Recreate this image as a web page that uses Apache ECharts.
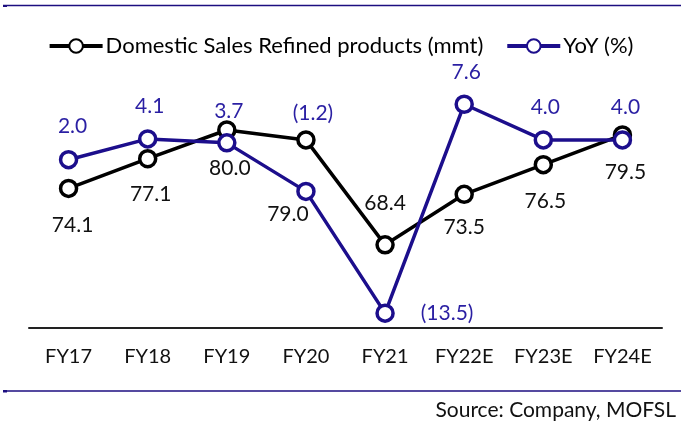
<!DOCTYPE html>
<html>
<head>
<meta charset="utf-8">
<script src="https://cdn.jsdelivr.net/npm/echarts@6/dist/echarts.min.js"></script>
<style>html,body{margin:0;padding:0;background:#fff}#c{width:681px;height:425px}</style>
</head>
<body>
<div id="c"></div>
<script>
const categories = ['FY17','FY18','FY19','FY20','FY21','FY22E','FY23E','FY24E'];
const salesValues = [74.1, 77.1, 80.0, 79.0, 68.4, 73.5, 76.5, 79.5];
const yoyValues = [2.0, 4.1, 3.7, -1.2, -13.5, 7.6, 4.0, 4.0];
const salesName = 'Domestic Sales Refined products (mmt)';
const yoyName = 'YoY (%)';

// label placement (layout only)
const salesLabelOffsets = [[4,37],[3,36],[3,38],[-18,74],[0,-42],[0,33],[2,37],[3,37]];
const yoyLabelOffsets = [[4,-33],[2,-33],[2,-32],[7,-78],[62,0],[2,-32],[2,-33],[3,-33]];

const FONT = 'Lato';
const PURPLE = '#1C0E8C';
const PURPLE_TXT = '#2A1FA3';

function fmtYoy(v){ return v < 0 ? '(' + Math.abs(v).toFixed(1) + ')' : v.toFixed(1); }

const chart = echarts.init(document.getElementById('c'), null, {renderer:'canvas'});
chart.setOption({
  animation:false,
  textStyle:{fontFamily:FONT},
  grid:{left:29, right:19, top:31, bottom:97},
  legend:{
    top:30, left:'center',
    itemWidth:53, itemHeight:17, itemGap:22,
    lineStyle:{width:4},
    textStyle:{fontFamily:FONT, fontSize:22, color:'#000', padding:[0,0,0,-2]},
    data:[salesName, yoyName]
  },
  xAxis:{
    type:'category', data:categories, boundaryGap:true,
    axisLine:{onZero:false, lineStyle:{color:'#222', width:2}},
    axisTick:{show:false},
    axisLabel:{fontFamily:FONT, fontSize:20, color:'#111', margin:19}
  },
  yAxis:[
    {type:'value', min:60, max:90, show:false, splitLine:{show:false}},
    {type:'value', min:-15, max:15, show:false, splitLine:{show:false}}
  ],
  series:[
    {
      name:salesName, type:'line', yAxisIndex:0,
      data:salesValues.map((v,i)=>({value:v, label:{offset:salesLabelOffsets[i]}})),
      symbol:'circle', symbolSize:16, showAllSymbol:true,
      lineStyle:{color:'#000', width:3.5},
      itemStyle:{color:'#fff', borderColor:'#000', borderWidth:3.5},
      label:{show:true, position:'inside', fontFamily:FONT, fontSize:21, color:'#111',
        formatter:p=>p.value.toFixed(1)},
      z:2
    },
    {
      name:yoyName, type:'line', yAxisIndex:1,
      data:yoyValues.map((v,i)=>({value:v, label:{offset:yoyLabelOffsets[i]}})),
      symbol:'circle', symbolSize:16, showAllSymbol:true,
      lineStyle:{color:PURPLE, width:3.5},
      itemStyle:{color:'#fff', borderColor:PURPLE, borderWidth:3.5},
      label:{show:true, position:'inside', fontFamily:FONT, fontSize:21, color:PURPLE_TXT,
        formatter:p=>fmtYoy(p.value)},
      z:3
    }
  ],
  graphic:[
    {type:'line', shape:{x1:3, y1:5.5, x2:681, y2:5.5}, style:{stroke:'#1C0E80', lineWidth:1.5}},
    {type:'rect', shape:{x:3, y:5, width:4, height:2}, style:{fill:'#1C0E80'}},
    {type:'line', shape:{x1:3, y1:391, x2:681, y2:391}, style:{stroke:'#1C0E80', lineWidth:1.5}},
    {type:'rect', shape:{x:3, y:390, width:4, height:2.5}, style:{fill:'#1C0E80'}},
    {type:'text', right:5, top:400, style:{text:'Source: Company, MOFSL', fontFamily:FONT, fontSize:21, fill:'#111'}}
  ]
});
</script>
</body>
</html>
